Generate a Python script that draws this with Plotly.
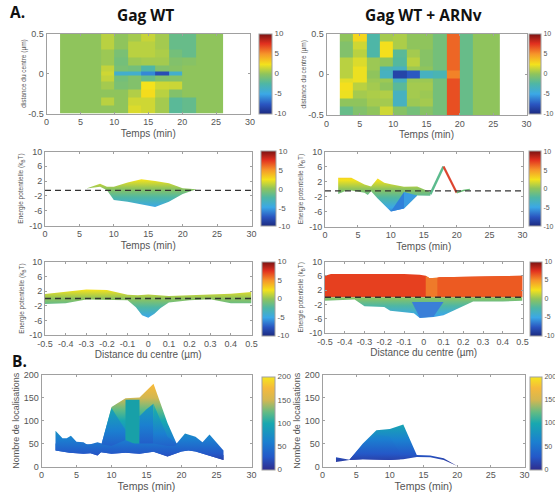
import plotly.graph_objects as go

W, H = 555, 492

JET = [[0.0, "#1c2a80"], [0.12, "#2a55c0"], [0.25, "#3ba8e6"], [0.38, "#4fb7a4"], [0.5, "#8fc45c"],
       [0.62, "#f4e21c"], [0.75, "#f6952a"], [0.88, "#e2301f"], [1.0, "#7a1212"]]
PARULA = [[0.0, "#2f2c8c"], [0.14, "#2458c8"], [0.3, "#1b7fd0"], [0.5, "#18a8b0"], [0.62, "#62bb84"],
          [0.75, "#d2b752"], [0.88, "#f5b93c"], [1.0, "#f5e61e"]]

# ---------- Row 1: heatmaps ----------
time_edges = [2, 4, 6, 8, 10, 12, 14, 16, 18, 20, 22, 24, 26]
pos_edges_wt = [-0.5, -0.4, -0.3, -0.2, -0.1, -0.03, 0.03, 0.1, 0.2, 0.3, 0.4, 0.5]
pos_edges_arn = [-0.5, -0.4, -0.3, -0.2, -0.1, -0.05, 0.05, 0.1, 0.2, 0.3, 0.4, 0.5]

heat_wt = [  # bottom row first
    [0, 0, 0, 0.0, 0, 1.8, 1.5, 0.5, -2.0, -1.6, 0, 0],
    [0, 0, 0, 1.0, 0, 1.5, 1.5, 0.5, -2.0, -1.6, 0, 0],
    [0, 0, 0, 0.0, 0, 0.8, 2.6, 1.0, -0.5, 0.0, 0, 0],
    [0, 0, 0, 0.5, -0.8, -0.5, 2.4, 1.5, 1.4, 0, 0, 0],
    [0, 0, 0, 1.2, -1.0, -0.5, -1.5, -0.5, -0.3, 0, 0, 0],
    [0, 0, 0, 1.5, -4.0, -4.0, -6.0, -8.0, -4.0, 0, 0, 0],
    [0, 0, 0, 1.2, -0.8, -1.0, -2.5, -0.5, -0.3, 0, 0, 0],
    [0, 0, 0, 0.3, -1.0, 0.3, 0.5, 0.5, -0.5, -0.3, 0, 0],
    [0, 0, 0, 0.3, -0.8, 1.0, 1.0, 0.7, -1.0, -1.5, 0, 0],
    [0, 0, 0, 1.0, 0.0, 1.0, 1.0, 0.5, -1.5, -1.5, 0, 0],
    [0, 0, 0, 1.0, 0.0, 0.5, 1.3, 0.5, -1.5, -1.5, 0, 0],
]
heat_arn = [  # bottom row first
    [-1.5, -0.5, 0.0, 1.5, -0.3, -1.0, -0.3, -1.0, 6.8, -1.5, 0, 0],
    [0.0, 0.0, 0.5, 0.5, -3.5, 0.3, 0.5, -1.0, 6.8, -1.5, 0, 0],
    [2.2, 0.5, 0.7, 0.8, -3.5, 0.5, 0.3, -1.0, 6.8, -1.5, 0, 0],
    [2.5, 1.0, 0.5, 0.0, -2.0, 0.5, 0.5, -1.0, 6.8, -1.5, 0, 0],
    [2.0, 2.2, 0.3, 0.3, -3.5, 0.3, 0.3, -1.0, 6.8, -1.5, 0, 0],
    [1.0, 2.2, 0.0, -3.5, -8.5, -7.5, -3.5, -3.0, 5.5, -1.5, 0, 0],
    [1.0, 2.2, 0.3, -3.0, -3.5, 0.3, 0.0, -1.0, 6.2, -1.5, 0, 0],
    [1.0, 1.8, 0.3, 0.0, -2.2, 1.0, -0.3, -1.0, 6.2, -1.5, 0, 0],
    [-0.5, 1.0, -2.5, 2.5, -2.0, 0.5, -0.3, -1.0, 6.2, -1.5, 0, 0],
    [-0.5, 1.5, -2.5, 2.5, 0.7, 0.0, 0.0, -1.0, 6.2, -1.5, 0, 0],
    [0.0, 2.8, -2.5, 0.5, 0.7, 0.0, 0.0, -1.0, 6.2, -1.5, 0, 0],
]

# ---------- Row 2: energy vs time ----------
e_wt_up_t = [6, 8, 9, 10, 12, 14, 16, 18, 20, 22]
e_wt_up = [0, 1.3, 0.5, 0.5, 1.6, 2.5, 2.0, 1.4, 0.1, 0]
e_wt_lo_t = [6, 8, 9, 10, 12, 14, 16, 18, 20, 22]
e_wt_lo = [0, 0.5, -0.5, -3.1, -3.6, -4.2, -5.0, -3.6, -1.5, -0.2]

e_arn_up_t = [2, 4, 6, 7, 8, 9, 10, 12, 14, 16]
e_arn_up = [3.0, 3.0, 1.2, 0.7, 2.8, 1.7, 1.3, 0.6, 0.7, -0.8]
e_arn_lo_t = [2, 3, 4, 6, 6.5, 7, 8, 10, 12, 14, 16]
e_arn_lo = [-1.3, -0.6, -0.4, -1.0, -1.6, -0.6, -2.5, -6.0, -5.2, -1.7, -1.8]
e_arn_f1_t = [10, 12]
e_arn_f1_up = [-6.0, -0.8]
e_arn_f1_lo = [-6.0, -5.2]
e_arn_f2_t = [12, 14]
e_arn_f2_up = [-0.8, -1.7]
e_arn_f2_lo = [-5.2, -1.7]
e_arn_rise_t = [16, 18]
e_arn_rise = [-1.4, 6.0]
e_arn_fall_t = [18, 20]
e_arn_fall = [6.0, -1.0]
e_arn_tail_t = [20, 21, 22]
e_arn_tail = [-1.0, -0.4, -0.1]

# ---------- Row 3: energy vs position ----------
d_wt_up_x = [-0.5, -0.45, -0.4, -0.3, -0.2, -0.1, -0.05, 0, 0.1, 0.2, 0.3, 0.4, 0.5]
d_wt_up = [1.2, 1.5, 1.7, 2.5, 2.3, 1.0, 0.9, 1.1, 0.7, 0.8, 1.1, 1.3, 1.8]
d_wt_lo_x = [-0.5, -0.4, -0.3, -0.2, -0.1, -0.06, -0.03, 0, 0.03, 0.06, 0.1, 0.2, 0.3, 0.4, 0.5]
d_wt_lo = [-1.5, -1.3, -0.3, -0.3, -0.5, -2.4, -4.6, -5.3, -4.2, -2.6, -1.1, -0.5, -0.2, -1.3, -1.3]

d_arn_red_x = [-0.5, -0.47, -0.1, -0.02, 0.01, 0.03, 0.06, 0.08, 0.5]
d_arn_red = [6.0, 6.5, 6.5, 6.3, 6.0, 5.3, 5.3, 5.6, 6.0]
d_arn_lo_x = [-0.5, -0.35, -0.3, -0.2, -0.17, -0.05, -0.02, 0.05, 0.1, 0.2, 0.25, 0.4, 0.5]
d_arn_lo = [-1.0, -0.6, -2.5, -2.7, -3.8, -4.5, -5.8, -5.5, -5.0, -2.5, -1.2, -1.2, -1.0]
d_arn_zero_x = [-0.5, 0.5]
d_arn_zero = [0, 0]
d_arn_right_x = [0.07, 0.08, 0.5]
d_arn_right_up = [5.5, 5.6, 6.0]
d_arn_right_lo_x = [0.07, 0.5]
d_arn_step_x = [0.01, 0.03, 0.07]
d_arn_step_up = [6.0, 5.3, 5.5]
d_arn_step_lo_x = [0.01, 0.07]
d_arn_core_up_x = [-0.06, 0.1]
d_arn_core_up = [-1.3, -1.3]
d_arn_core_lo_x = [-0.02, 0.05]
d_arn_core_lo = [-5.7, -5.4]

# ---------- Row 4: localisations ----------
n_wt_up_t = [2, 3, 3.6, 4.2, 5, 6, 6.6, 8, 8.6, 10, 12, 14, 16, 18, 19.3, 20.5, 22, 23, 24, 26]
n_wt_up = [78, 62, 62, 67, 54, 53, 47, 53, 50, 130, 149, 151, 181, 95, 50, 72, 65, 53, 70, 35]
n_wt_lo_t = [2, 4, 6, 7, 8, 8.5, 10, 12, 14, 16, 18, 20, 21, 22, 24, 26]
n_wt_lo = [35, 30, 28, 29, 24, 31, 28, 30, 28, 32, 22, 33, 35, 33, 23, 14]
n_wt_a_t = [8.6, 10, 12]
n_wt_a_up = [50, 128, 80]
n_wt_a_lo = [45, 45, 50]
n_wt_b_t = [12, 14]
n_wt_b_up = [146, 146]
n_wt_b_lo = [50, 50]
n_wt_c_t = [14, 15, 16]
n_wt_c_up = [110, 125, 137]
n_wt_c_lo = [50, 50, 50]
n_wt_d_t = [16, 18, 19.3]
n_wt_d_up = [137, 65, 50]
n_wt_d_lo = [50, 45, 45]
n_wt_mid_t = [2, 8.6, 10, 12, 14, 16, 18, 20, 22, 24, 26]
n_wt_mid = [50, 48, 45, 58, 45, 45, 40, 50, 45, 35, 25]

n_arn_up_t = [2, 4, 6, 8, 10, 12, 14, 16, 18, 20]
n_arn_up = [20, 15, 50, 79, 82, 92, 25, 24, 18, 1]
n_arn_lo_t = [2, 4, 6, 8, 10, 12, 14, 16, 18, 20]
n_arn_lo = [10, 14, 16, 15, 14, 16, 21, 20, 14, 1]
n_arn_a_t = [4, 6, 8, 10, 11.5]
n_arn_a_up = [15, 48, 70, 65, 30]
n_arn_a_lo = [14, 16, 15, 14, 16]

fig = go.Figure()
axis_count = 0

TICK = dict(family="Liberation Sans", color="#555555")


def panel(box, xr, yr, xticks, yticks, xtitle, ytitle, xsize, ysize, xstand, ystand, tsize):
    global axis_count
    axis_count += 1
    n = axis_count
    x0, x1, y0, y1 = box
    xa = "xaxis" if n == 1 else f"xaxis{n}"
    ya = "yaxis" if n == 1 else f"yaxis{n}"
    xref = "x" if n == 1 else f"x{n}"
    yref = "y" if n == 1 else f"y{n}"
    common = dict(showgrid=False, zeroline=False, showline=True, linecolor="#a0a0a0", linewidth=1,
                  mirror="allticks", ticks="inside", ticklen=2, tickcolor="#a0a0a0", layer="above traces")
    fig.layout[xa] = dict(common, domain=[x0 / W, x1 / W], range=xr, anchor=yref, tickvals=xticks,
                          ticktext=[f"{v:g}" for v in xticks],
                          tickfont=dict(TICK, size=tsize),
                          title=dict(text=xtitle, font=dict(TICK, size=xsize), standoff=xstand))
    fig.layout[ya] = dict(common, domain=[1 - y1 / H, 1 - y0 / H], range=yr, anchor=xref, tickvals=yticks,
                          ticktext=[f"{v:g}" for v in yticks],
                          tickfont=dict(TICK, size=tsize),
                          title=dict(text=ytitle, font=dict(TICK, size=ysize), standoff=ystand))
    return xref, yref


def band(ref, xu, yu, xl, yl, scale, lo, hi, color=None):
    xs = list(xu) + list(reversed(xl))
    ys = list(yu) + list(reversed(yl))
    t = dict(x=xs, y=ys, xaxis=ref[0], yaxis=ref[1], mode="lines", line=dict(width=0),
             fill="toself", hoverinfo="skip", showlegend=False)
    if color:
        t["fillcolor"] = color
    else:
        t["fillgradient"] = dict(type="vertical", colorscale=scale, start=lo, stop=hi)
    fig.add_trace(go.Scatter(**t))


def cbar(ref, box, scale, lo, hi, vals, fsize=8):
    x0, x1, y0, y1 = box
    fig.add_trace(go.Scatter(
        x=[None], y=[None], xaxis=ref[0], yaxis=ref[1], mode="markers", showlegend=False, hoverinfo="skip",
        marker=dict(color=[lo, hi], cmin=lo, cmax=hi, colorscale=scale, size=0, showscale=True,
                    colorbar=dict(x=x0 / W, xanchor="left", xref="paper", xpad=0, ypad=0,
                                  y=1 - y0 / H, yanchor="top", yref="paper",
                                  lenmode="pixels", len=y1 - y0, thicknessmode="pixels", thickness=x1 - x0,
                                  outlinecolor="#a0a0a0", outlinewidth=1, ticks="", ticklabelposition="outside",
                                  tickvals=vals, ticktext=[f"{v:g}" for v in vals],
                                  tickfont=dict(TICK, size=fsize)))))


def dashed(ref, xr, value):
    fig.add_trace(go.Scatter(x=xr, y=[value, value], xaxis=ref[0], yaxis=ref[1], mode="lines",
                             line=dict(color="#333333", width=1.3, dash="6px,4px"),
                             hoverinfo="skip", showlegend=False))


T_TICKS = [0, 5, 10, 15, 20, 25, 30]
E_TICKS = [-10, -6, -2, 2, 6, 10]
D_TICKS = [-0.5, -0.4, -0.3, -0.2, -0.1, 0, 0.1, 0.2, 0.3, 0.4, 0.5]
C_TICKS = [-10, -5, 0, 5, 10]
N_TICKS = [0, 50, 100, 150, 200]
E_TITLE = "Energie potentielle (k<sub>B</sub>T)"
HEAT_YT = "distance du centre (µm)"

# Row 1
r = panel((46.5, 250, 33.5, 113.5), [0, 30], [-0.5, 0.5], T_TICKS, [-0.5, 0, 0.5], "Temps (min)", HEAT_YT, 10, 6.5, 3, 0, 9)
fig.add_trace(go.Heatmap(x=time_edges, y=pos_edges_wt, z=heat_wt, xaxis=r[0], yaxis=r[1], zmin=-10, zmax=10,
                         colorscale=JET, showscale=False, hoverinfo="skip"))
cbar(r, (258.5, 271, 33.5, 113.5), JET, -10, 10, C_TICKS)

r = panel((326.5, 526.5, 33.5, 115), [0, 30], [-0.5, 0.5], T_TICKS, [-0.5, 0, 0.5], "Temps (min)", HEAT_YT, 10, 6.5, 3, 0, 9)
fig.add_trace(go.Heatmap(x=time_edges, y=pos_edges_arn, z=heat_arn, xaxis=r[0], yaxis=r[1], zmin=-10, zmax=10,
                         colorscale=JET, showscale=False, hoverinfo="skip"))
cbar(r, (529, 541, 33.5, 113.5), JET, -10, 10, C_TICKS, 7)

# Row 2
r = panel((45, 251.5, 151.5, 225.5), [0, 30], [-10, 10], T_TICKS, E_TICKS, "Temps (min)", E_TITLE, 10, 6.5, 3, 4, 9)
band(r, e_wt_up_t, e_wt_up, e_wt_lo_t, e_wt_lo, JET, -10, 10)
dashed(r, [0, 30], -0.5)
cbar(r, (260.5, 275, 151.5, 226), JET, -10, 10, C_TICKS)

r = panel((325, 522.5, 151.5, 226.5), [0, 30], [-10, 10], T_TICKS, E_TICKS, "Temps (min)", E_TITLE, 10, 6.5, 3, 4, 9)
band(r, e_arn_up_t, e_arn_up, e_arn_lo_t, e_arn_lo, JET, -10, 10)
band(r, e_arn_f1_t, e_arn_f1_up, e_arn_f1_t, e_arn_f1_lo, JET, -10, 10, "#2f80da")
band(r, e_arn_f2_t, e_arn_f2_up, e_arn_f2_t, e_arn_f2_lo, JET, -10, 10, "#3a9ce2")
fig.add_trace(go.Scatter(x=e_arn_rise_t, y=e_arn_rise, xaxis=r[0], yaxis=r[1], mode="lines",
                         line=dict(color="#5cbb8e", width=2.5), hoverinfo="skip", showlegend=False))
fig.add_trace(go.Scatter(x=e_arn_fall_t, y=e_arn_fall, xaxis=r[0], yaxis=r[1], mode="lines",
                         line=dict(color="#dd4530", width=2.2), hoverinfo="skip", showlegend=False))
fig.add_trace(go.Scatter(x=e_arn_tail_t, y=e_arn_tail, xaxis=r[0], yaxis=r[1], mode="lines",
                         line=dict(color="#6cbd78", width=1.5), hoverinfo="skip", showlegend=False))
dashed(r, [0, 30], -0.5)
cbar(r, (529, 541, 151.5, 226.5), JET, -10, 10, C_TICKS, 7)

# Row 3
r = panel((45, 251.5, 262, 335), [-0.5, 0.5], [-10, 10], D_TICKS, E_TICKS, "Distance du centre (µm)", E_TITLE, 10, 6.5, 3, 3, 9)
band(r, d_wt_up_x, d_wt_up, d_wt_lo_x, d_wt_lo, JET, -10, 10)
dashed(r, [-0.5, 0.5], 0)
cbar(r, (262, 275, 261.5, 335), JET, -10, 10, C_TICKS)

r = panel((325, 522.5, 261.5, 333), [-0.5, 0.5], [-10, 10], D_TICKS, E_TICKS, "Distance du centre (µm)", E_TITLE, 10, 6.5, 3, 4, 9)
band(r, d_arn_red_x, d_arn_red, d_arn_zero_x, d_arn_zero, JET, -10, 10, "#e6401f")
band(r, d_arn_right_x, d_arn_right_up, d_arn_right_lo_x, d_arn_zero, JET, -10, 10, "#ec5a22")
band(r, d_arn_step_x, d_arn_step_up, d_arn_step_lo_x, d_arn_zero, JET, -10, 10, "#ef7a2a")
band(r, d_arn_zero_x, d_arn_zero, d_arn_lo_x, d_arn_lo, JET, -10, 10)
band(r, d_arn_core_up_x, d_arn_core_up, d_arn_core_lo_x, d_arn_core_lo, JET, -10, 10, "#3a7fd8")
dashed(r, [-0.5, 0.5], 0)
cbar(r, (529.5, 541.5, 261.5, 335), JET, -10, 10, C_TICKS, 7)

# Row 4
r = panel((41.5, 251.5, 375, 466.5), [0, 30], [0, 200], T_TICKS, N_TICKS, "Temps (min)", "Nombre de localisations", 10.5, 9, 3, 2, 9)
band(r, n_wt_up_t, n_wt_up, n_wt_lo_t, n_wt_lo, PARULA, 0, 200)
band(r, n_wt_a_t, n_wt_a_up, n_wt_a_t, n_wt_a_lo, PARULA, 0, 260)
band(r, n_wt_b_t, n_wt_b_up, n_wt_b_t, n_wt_b_lo, PARULA, 0, 200, "#18a0a8")
band(r, n_wt_c_t, n_wt_c_up, n_wt_c_t, n_wt_c_lo, PARULA, 0, 300)
band(r, n_wt_d_t, n_wt_d_up, n_wt_d_t, n_wt_d_lo, PARULA, 0, 240)
band(r, n_wt_mid_t, n_wt_mid, n_wt_lo_t, n_wt_lo, PARULA, 0, 200)
cbar(r, (261.5, 274, 376.5, 469), PARULA, 0, 200, N_TICKS)

r = panel((322.5, 524.5, 375, 466.5), [0, 30], [0, 200], T_TICKS, N_TICKS, "Temps (min)", "Nombre de localisations", 10.5, 9, 3, 2, 9)
band(r, n_arn_up_t, n_arn_up, n_arn_lo_t, n_arn_lo, PARULA, 0, 190)
band(r, n_arn_a_t, n_arn_a_up, n_arn_a_t, n_arn_a_lo, PARULA, 0, 200)
cbar(r, (529.5, 541.5, 376.5, 469), PARULA, 0, 200, N_TICKS, 7)

LABEL = dict(family="Open Sans", color="#111111")
notes = [("A.", 8, 12, 15.5, "left"), ("B.", 10, 361, 15.5, "left"),
         ("Gag WT", 145, 15, 15.5, "center"), ("Gag WT + ARNv", 423, 15, 15.5, "center")]
for text, x, y, size, anchor in notes:
    fig.add_annotation(text=f"<b>{text}</b>", xref="paper", yref="paper", x=x / W, y=1 - y / H,
                       showarrow=False, xanchor=anchor, yanchor="middle", font=dict(LABEL, size=size))

fig.update_layout(width=W, height=H, margin=dict(l=0, r=0, t=0, b=0, autoexpand=False), autosize=False,
                  paper_bgcolor="white", plot_bgcolor="white", showlegend=False)
fig.write_html("out.html", config={"displayModeBar": False},
               post_script="document.body.style.margin='0';document.documentElement.style.overflow='hidden';")
